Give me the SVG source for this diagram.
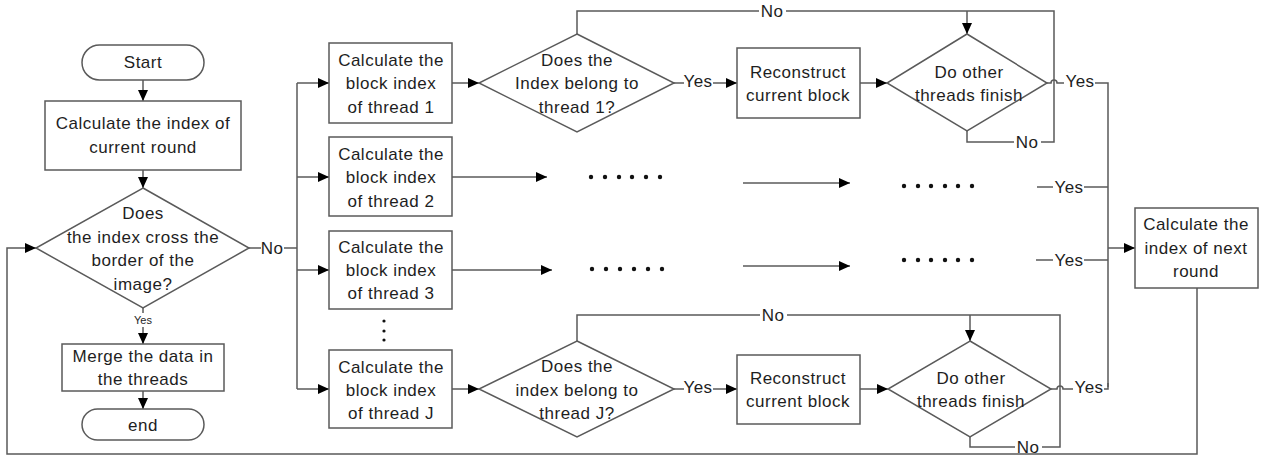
<svg xmlns="http://www.w3.org/2000/svg" width="1261" height="457" viewBox="0 0 1261 457">
<style>
.n{fill:#fff;stroke:#5a5a5a;stroke-width:1.5}
.c{fill:none;stroke:#5a5a5a;stroke-width:1.5}
.t{font-family:"Liberation Sans",Arial,sans-serif;font-size:17px;letter-spacing:0.5px;fill:#1e1e1e;text-anchor:middle}
.s{font-size:11px;letter-spacing:0}
.d{fill:#111}
</style>
<defs>
<marker id="a" markerUnits="userSpaceOnUse" markerWidth="12" markerHeight="12" refX="11" refY="6" orient="auto">
<path d="M0,1 L11,6 L0,11 Z" fill="#000"/>
</marker>
</defs>
<rect width="1261" height="457" fill="#fff"/>

<g id="connectors">
<line class="c" x1="143" y1="80" x2="143" y2="101" marker-end="url(#a)"/>
<line class="c" x1="143" y1="170" x2="143" y2="188" marker-end="url(#a)"/>
<line class="c" x1="143" y1="308" x2="143" y2="313"/>
<line class="c" x1="143" y1="327" x2="143" y2="344" marker-end="url(#a)"/>
<line class="c" x1="143" y1="391" x2="143" y2="409" marker-end="url(#a)"/>
<polyline class="c" points="1197,288 1197,454 7,454 7,248 36,248" marker-end="url(#a)"/>
<line class="c" x1="249" y1="248" x2="261" y2="248"/>
<line class="c" x1="284" y1="248" x2="297" y2="248"/>
<line class="c" x1="297" y1="83" x2="297" y2="389"/>
<line class="c" x1="297" y1="83" x2="329" y2="83" marker-end="url(#a)"/>
<line class="c" x1="297" y1="177" x2="329" y2="177" marker-end="url(#a)"/>
<line class="c" x1="297" y1="270" x2="329" y2="270" marker-end="url(#a)"/>
<line class="c" x1="297" y1="389" x2="329" y2="389" marker-end="url(#a)"/>
<line class="c" x1="452" y1="83" x2="479" y2="83" marker-end="url(#a)"/>
<line class="c" x1="452" y1="389" x2="479" y2="389" marker-end="url(#a)"/>
<line class="c" x1="452" y1="177" x2="547" y2="177" marker-end="url(#a)"/>
<line class="c" x1="452" y1="270" x2="552" y2="270" marker-end="url(#a)"/>
<line class="c" x1="743" y1="183" x2="850" y2="183" marker-end="url(#a)"/>
<line class="c" x1="743" y1="266" x2="850" y2="266" marker-end="url(#a)"/>
<!-- row 1 -->
<line class="c" x1="674" y1="83" x2="684" y2="83"/>
<line class="c" x1="713" y1="83" x2="737" y2="83" marker-end="url(#a)"/>
<line class="c" x1="860" y1="83" x2="887" y2="83" marker-end="url(#a)"/>
<polyline class="c" points="577,34 577,11 759,11"/>
<polyline class="c" points="786,11 1054,11 1054,142 1041,142"/>
<polyline class="c" points="1014,142 967,142 967,131"/>
<line class="c" x1="967" y1="11" x2="967" y2="34" marker-end="url(#a)"/>
<path class="c" d="M1047,83 L1051,83 A3,3 0 0 1 1057,83 L1064,83"/>
<polyline class="c" points="1095,83 1108,83 1108,387"/>
<!-- rows 2,3 -->
<polyline class="c" points="1037,187 1053,187"/>
<polyline class="c" points="1084,187 1108,187"/>
<polyline class="c" points="1036,260 1053,260"/>
<polyline class="c" points="1084,260 1108,260"/>
<line class="c" x1="1108" y1="248" x2="1135" y2="248" marker-end="url(#a)"/>
<!-- row J -->
<line class="c" x1="674" y1="389" x2="684" y2="389"/>
<line class="c" x1="713" y1="389" x2="737" y2="389" marker-end="url(#a)"/>
<line class="c" x1="860" y1="389" x2="888" y2="389" marker-end="url(#a)"/>
<polyline class="c" points="577,341 577,315 760,315"/>
<polyline class="c" points="787,315 1060,315 1060,447 1042,447"/>
<polyline class="c" points="1015,447 970,447 970,437"/>
<line class="c" x1="970" y1="315" x2="970" y2="341" marker-end="url(#a)"/>
<path class="c" d="M1051,389 L1057,389 A3,3 0 0 1 1063,389 L1073,389"/>
<polyline class="c" points="1104,389 1108,389 1108,383"/>
</g>

<g id="labels">
<text class="t" x="272" y="248" dy="0.35em">No</text>
<text class="t s" x="143" y="320" dy="0.35em">Yes</text>
<text class="t" x="698" y="81" dy="0.35em">Yes</text>
<text class="t" x="772" y="11" dy="0.35em">No</text>
<text class="t" x="1027" y="142" dy="0.35em">No</text>
<text class="t" x="1080" y="81" dy="0.35em">Yes</text>
<text class="t" x="1069" y="187" dy="0.35em">Yes</text>
<text class="t" x="1069" y="260" dy="0.35em">Yes</text>
<text class="t" x="698" y="387" dy="0.35em">Yes</text>
<text class="t" x="773" y="315" dy="0.35em">No</text>
<text class="t" x="1028" y="447" dy="0.35em">No</text>
<text class="t" x="1089" y="387" dy="0.35em">Yes</text>
</g>

<g id="ellipsis">
<g class="d">
<circle cx="591" cy="177" r="2.2"/><circle cx="605" cy="177" r="2.2"/><circle cx="619" cy="177" r="2.2"/><circle cx="632" cy="177" r="2.2"/><circle cx="646" cy="177" r="2.2"/><circle cx="660" cy="177" r="2.2"/>
<circle cx="592" cy="269" r="2.2"/><circle cx="606" cy="269" r="2.2"/><circle cx="620" cy="269" r="2.2"/><circle cx="634" cy="269" r="2.2"/><circle cx="648" cy="269" r="2.2"/><circle cx="662" cy="269" r="2.2"/>
<circle cx="904" cy="186" r="2.2"/><circle cx="918" cy="186" r="2.2"/><circle cx="931" cy="186" r="2.2"/><circle cx="945" cy="186" r="2.2"/><circle cx="958" cy="186" r="2.2"/><circle cx="972" cy="186" r="2.2"/>
<circle cx="904" cy="260" r="2.2"/><circle cx="918" cy="260" r="2.2"/><circle cx="931" cy="260" r="2.2"/><circle cx="945" cy="260" r="2.2"/><circle cx="958" cy="260" r="2.2"/><circle cx="972" cy="260" r="2.2"/>
<circle cx="384" cy="321" r="1.6"/><circle cx="384" cy="331" r="1.6"/><circle cx="384" cy="340" r="1.6"/>
</g>
</g>

<g id="start">
<rect class="n" x="82" y="45" width="122" height="35" rx="17.5"/>
<text class="t" x="143" y="62" dy="0.35em">Start</text>
</g>
<g id="calc-round">
<rect class="n" x="45" y="101" width="196" height="69"/>
<text class="t" x="143" y="123" dy="0.35em">Calculate the index of</text>
<text class="t" x="143" y="147" dy="0.35em">current round</text>
</g>
<g id="cross-border">
<polygon class="n" points="143,188 249,248 143,308 36,248"/>
<text class="t" x="143" y="213" dy="0.35em">Does</text>
<text class="t" x="143" y="237" dy="0.35em">the index cross the</text>
<text class="t" x="143" y="260" dy="0.35em">border of the</text>
<text class="t" x="143" y="284" dy="0.35em">image?</text>
</g>
<g id="merge">
<rect class="n" x="62" y="344" width="162" height="47"/>
<text class="t" x="143" y="356" dy="0.35em">Merge the data in</text>
<text class="t" x="143" y="379" dy="0.35em">the threads</text>
</g>
<g id="end">
<rect class="n" x="82" y="409" width="122" height="31" rx="15.5"/>
<text class="t" x="143" y="425" dy="0.35em">end</text>
</g>

<g id="thread1">
<rect class="n" x="329" y="43" width="123" height="80"/>
<text class="t" x="391" y="60" dy="0.35em">Calculate the</text>
<text class="t" x="391" y="83" dy="0.35em">block index</text>
<text class="t" x="391" y="107" dy="0.35em">of thread 1</text>
</g>
<g id="thread2">
<rect class="n" x="329" y="137" width="123" height="79"/>
<text class="t" x="391" y="154" dy="0.35em">Calculate the</text>
<text class="t" x="391" y="177" dy="0.35em">block index</text>
<text class="t" x="391" y="201" dy="0.35em">of thread 2</text>
</g>
<g id="thread3">
<rect class="n" x="329" y="231" width="123" height="78"/>
<text class="t" x="391" y="247" dy="0.35em">Calculate the</text>
<text class="t" x="391" y="270" dy="0.35em">block index</text>
<text class="t" x="391" y="293" dy="0.35em">of thread 3</text>
</g>
<g id="threadJ">
<rect class="n" x="329" y="350" width="123" height="78"/>
<text class="t" x="391" y="367" dy="0.35em">Calculate the</text>
<text class="t" x="391" y="390" dy="0.35em">block index</text>
<text class="t" x="391" y="413" dy="0.35em">of thread J</text>
</g>

<g id="belong1">
<polygon class="n" points="577,34 674,83 577,132 479,83"/>
<text class="t" x="577" y="60" dy="0.35em">Does the</text>
<text class="t" x="577" y="83" dy="0.35em">Index belong to</text>
<text class="t" x="577" y="107" dy="0.35em">thread 1?</text>
</g>
<g id="belongJ">
<polygon class="n" points="577,341 674,389 577,437 479,389"/>
<text class="t" x="577" y="366" dy="0.35em">Does the</text>
<text class="t" x="577" y="390" dy="0.35em">index belong to</text>
<text class="t" x="577" y="413" dy="0.35em">thread J?</text>
</g>

<g id="reconstruct1">
<rect class="n" x="737" y="48" width="123" height="70"/>
<text class="t" x="798" y="72" dy="0.35em">Reconstruct</text>
<text class="t" x="798" y="95" dy="0.35em">current block</text>
</g>
<g id="reconstructJ">
<rect class="n" x="737" y="355" width="123" height="69"/>
<text class="t" x="798" y="378" dy="0.35em">Reconstruct</text>
<text class="t" x="798" y="401" dy="0.35em">current block</text>
</g>

<g id="finish1">
<polygon class="n" points="967,34 1047,83 967,131 887,83"/>
<text class="t" x="969" y="72" dy="0.35em">Do other</text>
<text class="t" x="969" y="95" dy="0.35em">threads finish</text>
</g>
<g id="finishJ">
<polygon class="n" points="970,341 1051,389 970,437 888,389"/>
<text class="t" x="971" y="378" dy="0.35em">Do other</text>
<text class="t" x="971" y="401" dy="0.35em">threads finish</text>
</g>

<g id="next-round">
<rect class="n" x="1135" y="208" width="123" height="80"/>
<text class="t" x="1196" y="224" dy="0.35em">Calculate the</text>
<text class="t" x="1196" y="248" dy="0.35em">index of next</text>
<text class="t" x="1196" y="271" dy="0.35em">round</text>
</g>
</svg>
